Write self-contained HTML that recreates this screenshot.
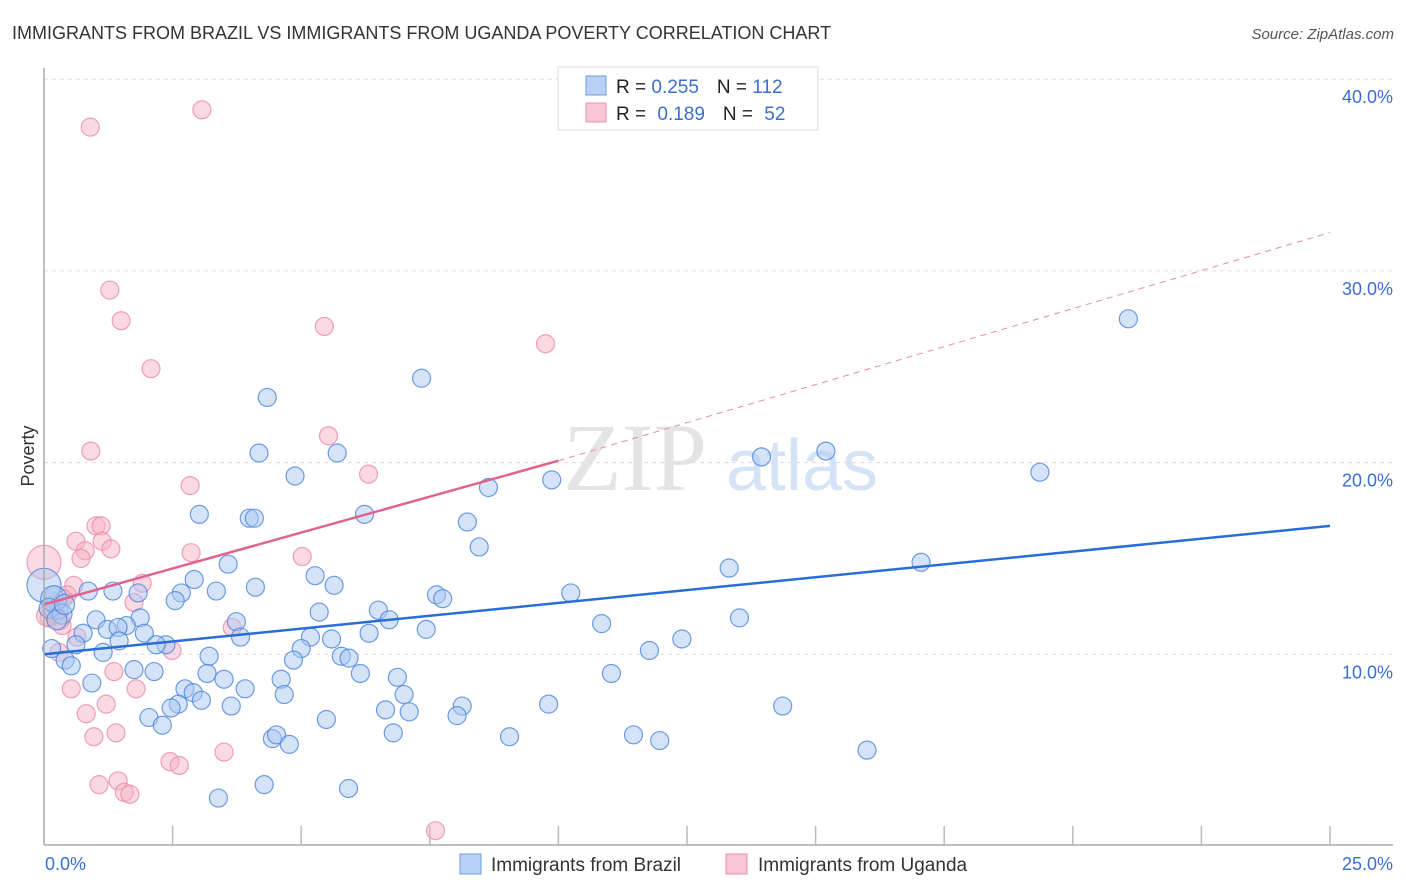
<!DOCTYPE html>
<html><head><meta charset="utf-8"><style>
body{margin:0;background:#fff;font-family:"Liberation Sans",sans-serif}
#c{position:relative;width:1406px;height:892px;overflow:hidden}
</style></head><body>
<div id="c">
<svg id="s" width="1406" height="892">
<text x="12" y="39" font-size="18" fill="#333">IMMIGRANTS FROM BRAZIL VS IMMIGRANTS FROM UGANDA POVERTY CORRELATION CHART</text>
<text x="1394" y="39" font-size="15" fill="#555" font-style="italic" text-anchor="end">Source: ZipAtlas.com</text>
<text x="635" y="490" font-size="96" fill="#e4e4e4" font-family="Liberation Serif" text-anchor="middle">ZIP</text>
<text x="802" y="490" font-size="72" fill="#d6e3f5" text-anchor="middle">atlas</text>
<text x="34" y="456" font-size="18" fill="#333" text-anchor="middle" transform="rotate(-90 34 456)">Poverty</text>
<g id="grid"></g><g id="pts"></g><g id="lines"></g>
<line x1="44" y1="68" x2="44" y2="845" stroke="#aaa" stroke-width="1.5"/>
<line x1="44" y1="845" x2="1393" y2="845" stroke="#aaa" stroke-width="1.5"/>
<text x="45" y="870" font-size="18" fill="#3a6fd0">0.0%</text>
<text x="1393" y="870" font-size="18" fill="#3a6fd0" text-anchor="end">25.0%</text>
<g>
<rect x="558" y="67" width="260" height="63" fill="#fff" stroke="#ddd"/>
<rect x="586" y="76" width="20" height="19" fill="#b8d1f5" stroke="#6d9be0"/>
<rect x="586" y="103" width="20" height="19" fill="#fbc7d6" stroke="#ec8fae"/>
<text x="616" y="93" font-size="19" fill="#222">R = <tspan fill="#3a6fd0">0.255</tspan><tspan dx="18">N = </tspan><tspan fill="#3a6fd0">112</tspan></text>
<text x="616" y="120" font-size="19" fill="#222">R = <tspan fill="#3a6fd0" dx="6">0.189</tspan><tspan dx="18">N = </tspan><tspan fill="#3a6fd0" dx="6">52</tspan></text>
</g>
<g>
<rect x="460" y="854" width="21" height="20" fill="#b8d1f5" stroke="#6d9be0"/>
<text x="491" y="871" font-size="19" fill="#333">Immigrants from Brazil</text>
<rect x="726" y="854" width="21" height="20" fill="#fbc7d6" stroke="#ec8fae"/>
<text x="758" y="871" font-size="19" fill="#333">Immigrants from Uganda</text>
</g>
</svg>
</div>
<script>
const yTicks=[10,20,30,40];
const xTicks=[0,2.5,5,7.5,10,12.5,15,17.5,20,22.5,25];
const brazilX=[21.08,7.34,4.34,4.18,5.70,4.88,8.64,9.87,13.95,15.20,19.36,3.02,3.99,4.09,6.23,8.23,8.46,3.58,13.32,17.05,5.27,5.64,2.92,4.11,3.35,2.67,2.55,1.83,1.34,0.86,0.19,0.29,10.24,7.63,7.75,6.50,6.71,5.35,3.74,1.87,1.01,13.52,10.84,1.60,1.23,1.44,1.95,0.76,3.82,5.18,5.59,6.32,7.43,12.40,1.46,2.37,2.18,0.62,1.15,5.00,11.77,5.78,3.21,5.93,0.41,0.53,4.85,1.75,2.14,3.17,6.15,11.03,6.87,4.61,3.50,0.93,2.74,2.90,3.91,4.67,7.00,3.06,2.61,2.47,3.64,6.64,7.10,8.13,8.03,9.81,14.36,2.04,5.49,2.30,6.79,9.05,11.46,11.97,4.44,4.52,4.77,16.00,4.28,5.92,3.39,0.0,0.19,0.1,0.35,0.25,0.4,0.15];
const brazilY=[27.5,24.4,23.4,20.5,20.5,19.3,18.7,19.1,20.3,20.6,19.5,17.3,17.1,17.1,17.3,16.9,15.6,14.7,14.5,14.8,14.1,13.6,13.9,13.5,13.3,13.2,12.8,13.2,13.3,13.3,13.1,12.3,13.2,13.1,12.9,12.3,11.8,12.2,11.7,11.9,11.8,11.9,11.6,11.5,11.3,11.4,11.1,11.1,10.9,10.9,10.8,11.1,11.3,10.8,10.7,10.5,10.5,10.5,10.1,10.3,10.2,9.9,9.9,9.8,9.7,9.4,9.7,9.2,9.1,9.0,9.0,9.0,8.8,8.7,8.7,8.5,8.2,8.0,8.2,7.9,7.9,7.6,7.4,7.2,7.3,7.1,7.0,7.3,6.8,7.4,7.3,6.7,6.6,6.3,5.9,5.7,5.8,5.5,5.6,5.8,5.3,5.0,3.2,3.0,2.5,13.6,12.9,12.4,12.1,11.8,12.6,10.3];
const brazilR=[9,9,9,9,9,9,9,9,9,9,9,9,9,9,9,9,9,9,9,9,9,9,9,9,9,9,9,9,9,9,9,9,9,9,9,9,9,9,9,9,9,9,9,9,9,9,9,9,9,9,9,9,9,9,9,9,9,9,9,9,9,9,9,9,9,9,9,9,9,9,9,9,9,9,9,9,9,9,9,9,9,9,9,9,9,9,9,9,9,9,9,9,9,9,9,9,9,9,9,9,9,9,9,9,9,17,13,10,10,10,10,9];
const ugandaX=[3.07,0.90,1.28,1.50,5.45,9.75,2.08,5.53,0.91,6.31,2.84,1.01,1.11,0.62,1.13,1.30,0.80,2.86,5.02,0.72,0.0,0.58,1.91,0.45,0.37,1.75,0.19,0.10,0.35,3.66,0.64,2.49,0.29,1.36,0.53,1.79,1.21,0.82,1.40,0.97,3.50,2.45,2.63,1.44,1.07,1.56,1.67,7.61,0.2,0.3,0.15,0.05];
const ugandaY=[38.4,37.5,29.0,27.4,27.1,26.2,24.9,21.4,20.6,19.4,18.8,16.7,16.7,15.9,15.9,15.5,15.4,15.3,15.1,15.0,14.8,13.6,13.7,13.1,12.9,12.7,12.3,11.9,11.5,11.4,10.9,10.2,10.1,9.1,8.2,8.2,7.4,6.9,5.9,5.7,4.9,4.4,4.2,3.4,3.2,2.8,2.7,0.8,12.1,11.8,12.5,12.0];
const ugandaR=[9,9,9,9,9,9,9,9,9,9,9,9,9,9,9,9,9,9,9,9,17,9,9,9,9,9,9,9,9,9,9,9,9,9,9,9,9,9,9,9,9,9,9,9,9,9,9,9,10,10,10,10];
const brazilTrend=[[0,10.0],[25,16.7]];
const ugandaTrend=[[0,12.6],[10,20.1]];
const ugandaDash=[[10,20.1],[25,32.0]];
const X=v=>44+v/25*1286, Y=v=>846-v*19.17;
const NS='http://www.w3.org/2000/svg';
function mk(t,a,p){const e=document.createElementNS(NS,t);for(const k in a)e.setAttribute(k,a[k]);p.appendChild(e);return e;}
const g=document.getElementById('grid');
yTicks.forEach(v=>{const l=mk('line',{x1:44,x2:1393,y1:Y(v),y2:Y(v),stroke:'#ddd','stroke-dasharray':'4,4'},g);


const t=mk('text',{x:1393,y:Y(v)+24,'font-size':18,fill:'#3a6fd0','text-anchor':'end'},g);t.textContent=v.toFixed(1)+'%';

});
xTicks.slice(1).forEach(v=>{const l=mk('line',{x1:X(v),x2:X(v),y1:826,y2:845,stroke:'#bbb','stroke-width':1.5},g);

});
const p=document.getElementById('pts');
function pts(xs,ys,rs,f,s,n){xs.forEach((x,i)=>{const c=mk('circle',{cx:X(x),cy:Y(ys[i]),r:rs[i],fill:f,'fill-opacity':0.5,stroke:s,'stroke-opacity':0.8,'stroke-width':1.2},p);

});}
pts(ugandaX,ugandaY,ugandaR,'#f7b3c8','#e98aa9','uganda-point');
pts(brazilX,brazilY,brazilR,'#a9c8f2','#4c84d8','brazil-point');
const L=document.getElementById('lines');
function ln(d,c,w,dash,n){const e=mk('line',{x1:X(d[0][0]),y1:Y(d[0][1]),x2:X(d[1][0]),y2:Y(d[1][1]),stroke:c,'stroke-width':w},L);if(dash)e.setAttribute('stroke-dasharray',dash);

}
ln(brazilTrend,'#2a6dd6',2.5,null,'brazil-trendline');
ln(ugandaTrend,'#e0628d',2.5,null,'uganda-trendline');
ln(ugandaDash,'#e98aa9',1,'6,5','uganda-trendline-extension');
</script>
</body></html>
